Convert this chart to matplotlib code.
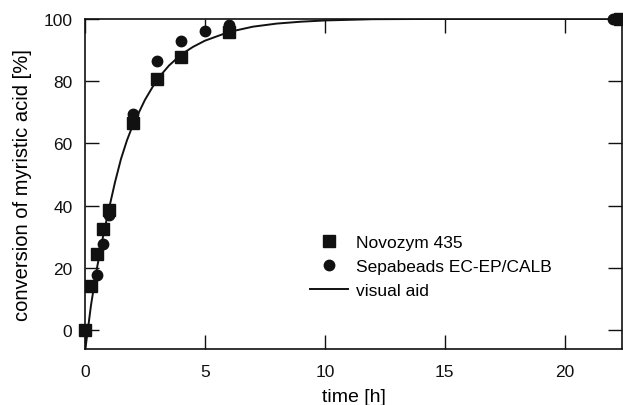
import matplotlib
matplotlib.use("Agg")
import matplotlib.pyplot as plt

plt.rcParams['font.family'] = ['Liberation Sans', 'DejaVu Sans']

# Novozym 435 (squares)
t_novo = [0, 0.25, 0.5, 0.75, 1.0, 2, 3, 4, 6, 22.3]
c_novo = [0, 14.2, 24.6, 32.4, 38.6, 66.7, 80.8, 87.7, 95.7, 100]

# Sepabeads EC-EP/CALB (circles)
t_sepa = [0.5, 0.75, 1.0, 2, 3, 4, 5, 6, 22]
c_sepa = [17.6, 27.7, 36.9, 69.3, 86.4, 92.8, 96.2, 97.9, 100]

# visual aid curve
t_curve = [0, 0.25, 0.5, 0.75, 1.0, 1.25, 1.5, 1.75, 2.0, 2.5, 3.0, 3.5, 4.0, 4.5, 5.0,
           6.0, 7.0, 8.0, 9.0, 10.0, 12.0, 15.0, 22.4]
c_curve = [-7, 8, 20, 30, 39, 47.5, 55, 61, 66, 74, 80.5, 85, 88.5, 91, 93,
           95.8, 97.5, 98.5, 99.1, 99.5, 99.9, 100, 100]

fig = plt.figure(figsize=(6.23, 4.06), dpi=100)
ax = fig.add_axes([0.1364, 0.138, 0.8626, 0.813])

ax.plot(t_curve, c_curve, color='#111111', lw=1.4, label='visual aid', zorder=2)
ax.plot(t_novo, c_novo, 's', color='#111111', ms=8.6, label='Novozym 435', zorder=3, clip_on=False)
ax.plot(t_sepa, c_sepa, 'o', color='#111111', ms=7.5, label='Sepabeads EC-EP/CALB', zorder=3, clip_on=False)

ax.set_xlim(0, 22.4)
ax.set_ylim(-6, 100)
ax.set_xticks([0, 5, 10, 15, 20])
ax.set_yticks([0, 20, 40, 60, 80, 100])
ax.tick_params(direction='in', length=10, width=1, top=True, right=True,
               labelsize=12.5, colors='#111111')
ax.tick_params(axis='x', pad=11)
ax.tick_params(axis='y', pad=9)
for s in ax.spines.values():
    s.set_linewidth(1.2)
    s.set_color('#111111')

ax.set_xlabel('time [h]', fontsize=14, labelpad=6)
ax.set_ylabel('conversion of myristic acid [%]', fontsize=14.5, labelpad=8)

handles, labels = ax.get_legend_handles_labels()
order = [1, 2, 0]
ax.legend([handles[i] for i in order], [labels[i] for i in order],
          loc='center left', bbox_to_anchor=(0.39, 0.25), frameon=False,
          fontsize=12.5, handlelength=2.2, labelspacing=0.5, handletextpad=0.45)

fig.savefig('out.png', dpi=100)
